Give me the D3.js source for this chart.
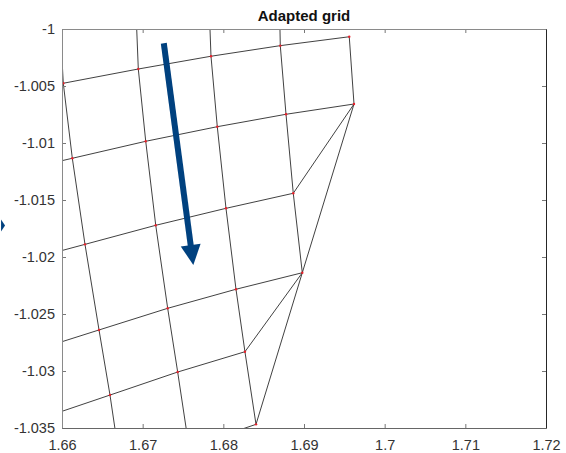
<!DOCTYPE html>
<html>
<head>
<meta charset="utf-8">
<script src="https://cdn.jsdelivr.net/npm/d3@7"></script>
<style>
  body { margin: 0; background: #fff; }
  svg text { font-family: "Liberation Sans", Arial, Helvetica, sans-serif; }
</style>
</head>
<body>
<div id="chart"></div>
<script>
// axis ticks
const xTicks = [1.66, 1.67, 1.68, 1.69, 1.70, 1.71, 1.72];
const xTickLabels = ["1.66", "1.67", "1.68", "1.69", "1.7", "1.71", "1.72"];
const yTicks = [-1, -1.005, -1.01, -1.015, -1.02, -1.025, -1.03, -1.035];
const yTickLabels = ["-1", "-1.005", "-1.01", "-1.015", "-1.02", "-1.025", "-1.03", "-1.035"];

// mesh nodes: [id, x, y]  (row r, column c); some sit just outside the axes and get clipped
const nodes = [
  ["r0c1", 1.65969, -0.99851], ["r0c2", 1.66911, -0.99737], ["r0c3", 1.67815, -0.99625], ["r0c4", 1.68689, -0.99532],
  ["r1c0", 1.65086, -1.00602], ["r1c1", 1.66016, -1.00476], ["r1c2", 1.66946, -1.00351], ["r1c3", 1.67847, -1.00239], ["r1c4", 1.68706, -1.00146], ["r1c5", 1.69561, -1.00068],
  ["r2c0", 1.65218, -1.01283], ["r2c1", 1.66128, -1.01134], ["r2c2", 1.67038, -1.00985], ["r2c3", 1.67925, -1.00857], ["r2c4", 1.68777, -1.00748], ["r2c5", 1.69620, -1.00658],
  ["r3c0", 1.65409, -1.02055], ["r3c1", 1.66285, -1.01889], ["r3c2", 1.67162, -1.01722], ["r3c3", 1.68033, -1.01573], ["r3c4", 1.68867, -1.01441],
  ["r4c0", 1.65607, -1.02831], ["r4c1", 1.66459, -1.02640], ["r4c2", 1.67310, -1.02450], ["r4c3", 1.68157, -1.02283], ["r4c4", 1.68979, -1.02138],
  ["r5c0", 1.65756, -1.03412], ["r5c1", 1.66595, -1.03211], ["r5c2", 1.67434, -1.03009], ["r5c3", 1.68268, -1.02831],
  ["r6c1", 1.66731, -1.03860], ["r6c2", 1.67574, -1.03667], ["r6c3", 1.68405, -1.03468]
];

// grid lines as node id chains
const rowLines = [
  ["r1c0", "r1c1", "r1c2", "r1c3", "r1c4", "r1c5"],
  ["r2c0", "r2c1", "r2c2", "r2c3", "r2c4", "r2c5"],
  ["r3c0", "r3c1", "r3c2", "r3c3", "r3c4", "r2c5"],
  ["r4c0", "r4c1", "r4c2", "r4c3", "r4c4", "r2c5"],
  ["r5c0", "r5c1", "r5c2", "r5c3", "r4c4"],
  ["r6c1", "r6c2", "r6c3", "r4c4"]
];
const colLines = [
  ["r0c1", "r1c1", "r2c1", "r3c1", "r4c1", "r5c1", "r6c1"],
  ["r0c2", "r1c2", "r2c2", "r3c2", "r4c2", "r5c2", "r6c2"],
  ["r0c3", "r1c3", "r2c3", "r3c3", "r4c3", "r5c3", "r6c3"],
  ["r0c4", "r1c4", "r2c4", "r3c4", "r4c4"],
  ["r1c5", "r2c5"]
];

// blue annotation arrow (data units)
const arrowStart = [1.67262, -1.00125];
const arrowEnd = [1.67628, -1.02070];
const sideArrowTip = [1.65294, -1.01724];

const W = 566, H = 453;
const margin = { top: 29, right: 20, bottom: 25, left: 62 };
const width = W - margin.left - margin.right,
      height = H - margin.top - margin.bottom;

const svg = d3.select("#chart").append("svg")
    .attr("width", W)
    .attr("height", H);

const x = d3.scaleLinear().domain([1.66, 1.72]).range([margin.left, margin.left + width]);
const y = d3.scaleLinear().domain([-1.035, -1]).range([margin.top + height, margin.top]);

const pos = new Map(nodes.map(d => [d[0], [d[1], d[2]]]));

svg.append("clipPath").attr("id", "plotclip")
  .append("rect")
    .attr("x", margin.left).attr("y", margin.top)
    .attr("width", width).attr("height", height);

const plot = svg.append("g").attr("clip-path", "url(#plotclip)");

const line = d3.line()
    .x(id => x(pos.get(id)[0]))
    .y(id => y(pos.get(id)[1]));

plot.selectAll(".gridline")
  .data(rowLines.concat(colLines))
  .enter().append("path")
    .attr("class", "gridline")
    .attr("d", line)
    .attr("fill", "none")
    .attr("stroke", "#2b2b2b")
    .attr("stroke-width", 0.9);

plot.selectAll(".node")
  .data(nodes)
  .enter().append("circle")
    .attr("class", "node")
    .attr("cx", d => x(d[1]))
    .attr("cy", d => y(d[2]))
    .attr("r", 1.2)
    .attr("fill", "#e8202a");

// axes box + inward ticks
const tickColor = "#777";
function styleAxis(g) {
  g.select(".domain").remove();
  g.selectAll(".tick line").attr("stroke", tickColor);
  g.selectAll(".tick text")
    .attr("fill", "#333")
    .style("font-size", "14.5px")
    .style("font-family", "'Liberation Sans', Arial, sans-serif");
}

svg.append("g")
    .attr("transform", "translate(0," + (margin.top + height) + ")")
    .call(d3.axisBottom(x).tickValues(xTicks).tickSize(-4).tickPadding(12)
      .tickFormat((d, i) => xTickLabels[i]))
    .call(styleAxis);

svg.append("g")
    .attr("transform", "translate(0," + margin.top + ")")
    .call(d3.axisTop(x).tickValues(xTicks).tickSize(-4).tickFormat(""))
    .call(styleAxis);

svg.append("g")
    .attr("transform", "translate(" + margin.left + ",0)")
    .call(d3.axisLeft(y).tickValues(yTicks).tickSize(-4).tickPadding(7)
      .tickFormat((d, i) => yTickLabels[i]))
    .call(styleAxis);

svg.append("g")
    .attr("transform", "translate(" + (margin.left + width) + ",0)")
    .call(d3.axisRight(y).tickValues(yTicks).tickSize(-4).tickFormat(""))
    .call(styleAxis);

const x0 = margin.left + 0.5, x1 = margin.left + width + 0.5,
      y0 = margin.top + 0.5, y1 = margin.top + height + 0.5;
const box = svg.append("g").attr("fill", "none").attr("stroke-width", 1);
box.append("path").attr("d", `M${x0},${y1}V${y0}H${x1}`).attr("stroke", "#8a8a8a");
box.append("path").attr("d", `M${x0},${y1}H${x1}`).attr("stroke", "#666");
box.append("path").attr("d", `M${x1},${y0}V${y1}`).attr("stroke", "#262626");

// title
svg.append("text")
    .attr("x", margin.left + width / 2)
    .attr("y", 21)
    .attr("text-anchor", "middle")
    .style("font-size", "15px")
    .style("font-weight", "bold")
    .attr("fill", "#111")
    .text("Adapted grid");

// blue arrow
const arrowColor = "#00417f";
function drawArrow(p0, p1, shaftW, headL, headW) {
  const ax = x(p0[0]), ay = y(p0[1]), bx = x(p1[0]), by = y(p1[1]);
  const len = Math.hypot(bx - ax, by - ay);
  const ux = (bx - ax) / len, uy = (by - ay) / len;
  const nx = -uy, ny = ux;
  const hx = bx - ux * headL, hy = by - uy * headL;
  svg.append("line")
      .attr("x1", ax).attr("y1", ay)
      .attr("x2", hx + ux * 1).attr("y2", hy + uy * 1)
      .attr("stroke", arrowColor)
      .attr("stroke-width", shaftW);
  svg.append("path")
      .attr("d", `M${bx},${by}L${hx + nx * headW / 2},${hy + ny * headW / 2}L${hx - nx * headW / 2},${hy - ny * headW / 2}Z`)
      .attr("fill", arrowColor);
}
drawArrow(arrowStart, arrowEnd, 6, 20, 20);

// edge of a second arrow, cut off by the image border
drawArrow([sideArrowTip[0] - 0.002, sideArrowTip[1]], sideArrowTip, 0, 4, 12);
</script>
</body>
</html>
